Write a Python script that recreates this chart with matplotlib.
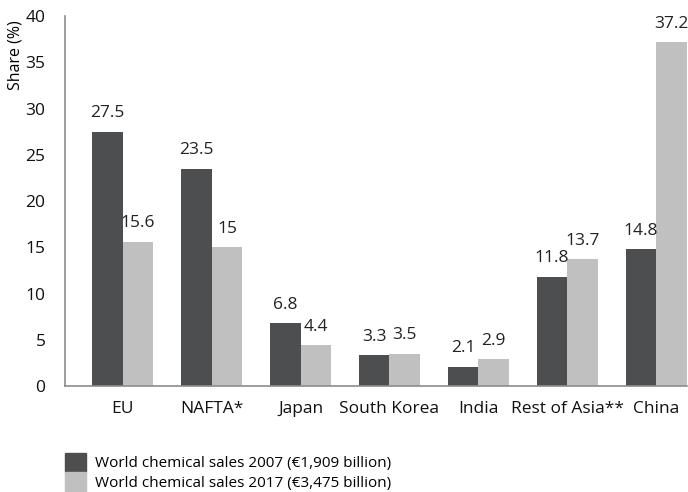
import numpy as np
from matplotlib import pyplot as plt
import matplotlib as mpl
from matplotlib.patches import Patch

mpl.rc('font', family=['Open Sans', 'DejaVu Sans'], size=12)

regions = ['EU', 'NAFTA*', 'Japan', 'South Korea', 'India', 'Rest of Asia**', 'China']
share_2007 = [27.5, 23.5, 6.8, 3.3, 2.1, 11.8, 14.8]
share_2017 = [15.6, 15, 4.4, 3.5, 2.9, 13.7, 37.2]
labels_2007 = ['27.5', '23.5', '6.8', '3.3', '2.1', '11.8', '14.8']
labels_2017 = ['15.6', '15', '4.4', '3.5', '2.9', '13.7', '37.2']
series_names = ['World chemical sales 2007 (\u20ac1,909 billion)',
                'World chemical sales 2017 (\u20ac3,475 billion)']

dark = '#4d4e50'
light = '#bfc0bf'
axis_grey = '#8c8c8c'

fig = plt.figure(figsize=(6.88, 4.92), dpi=100)
ax = fig.add_axes([0.0945, 0.2154, 0.9045, 0.752])

x = np.arange(len(regions))
w = 0.345
b1 = ax.bar(x - w / 2, share_2007, w, color=dark)
b2 = ax.bar(x + w / 2, share_2017, w, color=light)

for bars, labs in ((b1, labels_2007), (b2, labels_2017)):
    for r, t in zip(bars, labs):
        ax.annotate(t, (r.get_x() + r.get_width() / 2, r.get_height()),
                    xytext=(0, 7.5), textcoords='offset points',
                    ha='center', va='bottom', fontsize=12.5, color='#222222')

ax.set_xlim(-0.65, 6.35)
ax.set_ylim(0, 40)
ax.set_yticks(range(0, 45, 5))
ax.set_xticks(x)
ax.set_xticklabels(regions)
ax.tick_params(length=0, labelsize=12.5, colors='#111111')
ax.tick_params(axis='x', pad=11)
ax.tick_params(axis='y', pad=14)
for s in ('top', 'right'):
    ax.spines[s].set_visible(False)
for s in ('left', 'bottom'):
    ax.spines[s].set_color(axis_grey)
    ax.spines[s].set_linewidth(1.2)
ax.set_ylabel('Share (%)', fontsize=11.5)
ax.yaxis.set_label_coords(-0.066, 0.895)

handles = [Patch(color=dark), Patch(color=light)]
fig.legend(handles, series_names, loc='lower left', bbox_to_anchor=(0.085, -0.012),
           frameon=False, fontsize=11, handlelength=1.4, handleheight=1.6,
           handletextpad=0.6, labelspacing=0.0, borderaxespad=0)

fig.savefig('out.png', dpi=100)
